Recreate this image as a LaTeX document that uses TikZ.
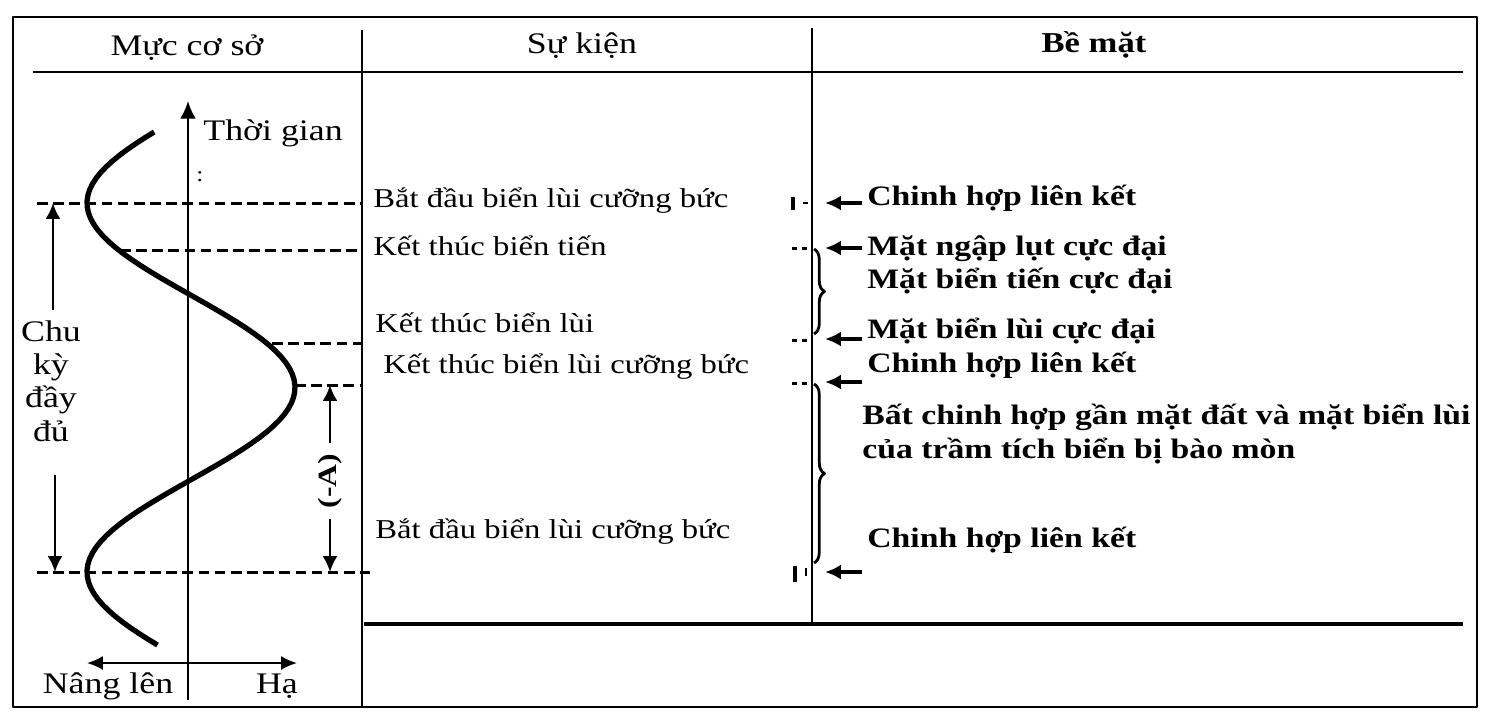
\documentclass[tikz,border=0pt]{standalone}
\usepackage{fontspec}
\setmainfont{Liberation Serif}[FakeStretch=1.2]
\usepackage{tikz}
\usetikzlibrary{arrows.meta}
\usetikzlibrary{decorations.pathreplacing}
\tikzset{hd/.style={font=\fontsize{17}{17}\selectfont, inner sep=0pt}}
\tikzset{lb/.style={font=\fontsize{17}{19}\selectfont, inner sep=0pt}}
\tikzset{ev/.style={font=\fontsize{15.5}{15.5}\selectfont, inner sep=0pt, anchor=base west}}
\tikzset{su/.style={font=\fontsize{16}{16}\selectfont\bfseries, inner sep=0pt, anchor=base west}}
\tikzset{dl/.style={line width=1.7pt, dash pattern=on 6pt off 3.2pt}}
\tikzset{ar/.style={-{Latex[length=9pt,width=8.5pt]}, line width=2pt}}

\begin{document}
\begin{tikzpicture}[x=0.02cm, y=-0.02cm, line join=round]
            \useasboundingbox (0,0) rectangle (1500,724);
            % table
            \draw[line width=1.5pt] (13,17) rectangle (1477,707);
            \draw[line width=1.4pt] (33,72) -- (1463,72);
            \draw[line width=1.3pt] (362,30) -- (362,707);
            \draw[line width=1.3pt] (812,28) -- (812,624);
            \draw[line width=2.6pt] (364,624) -- (1463,624);
            \node[hd] (H1) at (187,55) [anchor=base] {Mực cơ sở};
            \node[hd] (H2) at (582,53) [anchor=base] {Sự kiện};
            \node[hd, font=\fontsize{16.4}{16.4}\selectfont\bfseries] (H3) at (1094,52) [anchor=base] {Bề mặt};
            % sea level curve
            \coordinate (T0) at (188,700);
            \coordinate (T1) at (188,101);
            \draw[-{Latex[length=10pt,width=9pt]}, line width=1.3pt] (T0) -- (T1);
            \node[lb, anchor=base west] (TG) at (203,140) {Thời gian};
            \node[lb, font=\fontsize{12}{12}\selectfont] (TGc) at (200,177) {:};
            \draw[line width=3pt] plot[domain=132:645, samples=90, variable=\t] ({191-104*cos(0.97561*(\t-203))}, {\t});
            % levels
            \coordinate (L1a) at (37,203);  \coordinate (L1b) at (362,203);
            \coordinate (L2a) at (120,250); \coordinate (L2b) at (362,250);
            \coordinate (L3a) at (272,343); \coordinate (L3b) at (362,343);
            \coordinate (L4a) at (295,385); \coordinate (L4b) at (362,385);
            \coordinate (L5a) at (37,572);  \coordinate (L5b) at (370,572);
            \draw[dl] (L1a) -- (L1b);
            \draw[dl] (L2a) -- (L2b);
            \draw[dl] (L3a) -- (L3b);
            \draw[dl] (L4a) -- (L4b);
            \draw[dl] (L5a) -- (L5b);
            % full cycle
            \node[lb, align=center] (CY) at (51,381) {Chu\\kỳ\\đầy\\đủ};
            \coordinate (C1) at (53,310); \coordinate (C2) at (53,203);
            \coordinate (C3) at (55,475); \coordinate (C4) at (55,572);
            \draw[ar, line width=1.5pt] (C1) -- (C2);
            \draw[ar, line width=1.5pt] (C3) -- (C4);
            \node[font=\fontsize{15}{15}\selectfont\bfseries, rotate=90, inner sep=6pt] (NA) at (330,481) {(-A)};
            \coordinate (A1) at (330,385); \coordinate (A2) at (330,572);
            \draw[ar, line width=1.5pt] (NA.east) -- (A1);
            \draw[ar, line width=1.5pt] (NA.west) -- (A2);
            % uplift / fall
            \coordinate (U) at (87,663); \coordinate (D) at (297,663);
            \draw[{Latex[length=9pt,width=8pt]}-{Latex[length=9pt,width=8pt]}, line width=1.4pt] (U) -- (D);
            \node[lb, anchor=base] (UP) at (108,693) {Nâng lên};
            \node[lb, anchor=base] (DN) at (277,693) {Hạ};
            % events
            \node[ev] (E1) at (373,207) {Bắt đầu biển lùi cưỡng bức};
            \node[ev] (E2) at (373,255) {Kết thúc biển tiến};
            \node[ev] (E3) at (375,332) {Kết thúc biển lùi};
            \node[ev] (E4) at (383,373) {Kết thúc biển lùi cưỡng bức};
            \node[ev] (E5) at (375,538) {Bắt đầu biển lùi cưỡng bức};
            % ends of levels
            \draw[line width=2.4pt] (793,197) -- (793,210);
            \draw[line width=1.6pt] (803,203) -- (808,203);
            \draw[dl, dash pattern=on 3pt off 2.5pt] (792,248) -- (811,248);
            \draw[dl, dash pattern=on 3pt off 2.5pt] (792,340) -- (811,340);
            \draw[dl, dash pattern=on 3pt off 2.5pt] (792,383) -- (811,383);
            \draw[line width=2.4pt] (795,566) -- (795,582);
            \draw[line width=1.3pt] (806,568) -- (806,576);
            % surfaces
            \draw[decorate, decoration={brace, amplitude=6pt}, line width=1.6pt] (814,249) -- (814,334);
            \draw[decorate, decoration={brace, amplitude=6pt}, line width=1.6pt] (814,384) -- (814,563);
            \coordinate (P1) at (825,203); \coordinate (Q1) at (862,203);
            \coordinate (P2) at (825,248); \coordinate (Q2) at (862,248);
            \coordinate (P3) at (825,339); \coordinate (Q3) at (862,339);
            \coordinate (P4) at (825,382); \coordinate (Q4) at (862,382);
            \coordinate (P5) at (825,572); \coordinate (Q5) at (862,572);
            \draw[ar] (Q1) -- (P1);
            \draw[ar] (Q2) -- (P2);
            \draw[ar] (Q3) -- (P3);
            \draw[ar] (Q4) -- (P4);
            \draw[ar] (Q5) -- (P5);
            \node[su] (S1) at (867,205) {Chinh hợp liên kết};
            \node[su] (S2) at (867,255) {Mặt ngập lụt cực đại};
            \node[su] (S3) at (867,288) {Mặt biển tiến cực đại};
            \node[su] (S4) at (867,338) {Mặt biển lùi cực đại};
            \node[su] (S5) at (867,372) {Chinh hợp liên kết};
            \node[su] (S6) at (862,424) {Bất chinh hợp gần mặt đất và mặt biển lùi};
            \node[su] (S7) at (862,458) {của trầm tích biển bị bào mòn};
            \node[su] (S8) at (867,547) {Chinh hợp liên kết};
\end{tikzpicture}
\end{document}
